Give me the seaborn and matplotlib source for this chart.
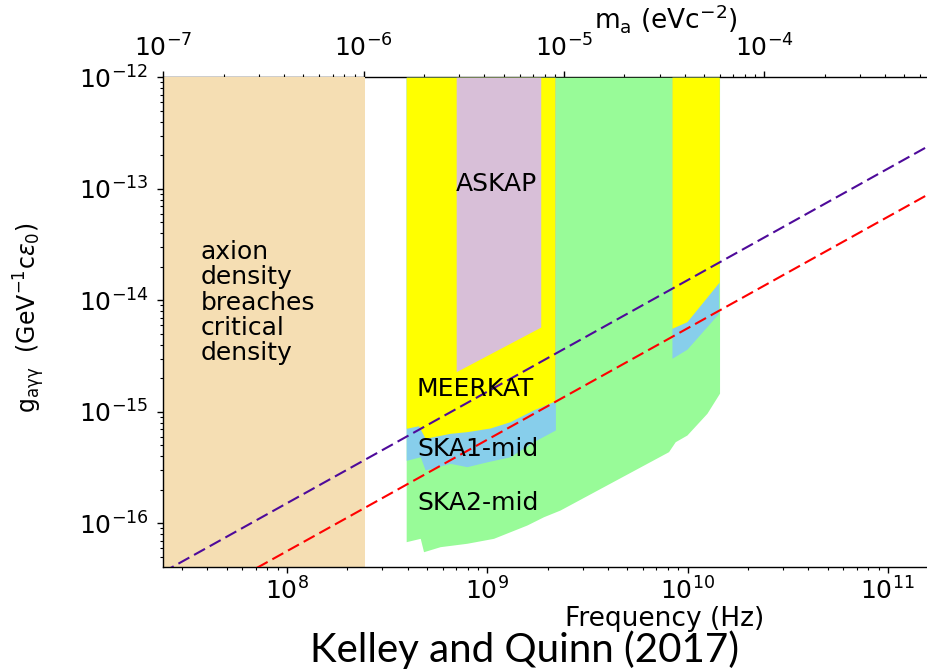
import numpy as np
import pandas as pd
import matplotlib
matplotlib.use("Agg")
import matplotlib.pyplot as plt
import seaborn as sns

# ---------------- data (Hz, GeV^-1 c eps0) ----------------
H_OVER_E = 4.135667e-15  # eV per Hz (photon energy conversion)

X_MIN, X_MAX = 2.415e7, 1.72e11
Y_MIN, Y_MAX = 4.03e-17, 1e-12

density_f = [2.415e7, 2.46e8]

meerkat_a_f = [3.94e8, 4.54e8, 4.90e8, 6.53e8, 7.94e8, 1.035e9, 1.30e9, 1.70e9, 2.18e9]
meerkat_a_g = [7.11e-16, 7.50e-16, 5.78e-16, 6.41e-16, 6.64e-16, 7.16e-16, 8.15e-16, 1.04e-15, 1.25e-15]
meerkat_b_f = [8.36e9, 9.93e9, 1.44e10]
meerkat_b_g = [5.61e-15, 6.43e-15, 1.46e-14]

ska1_a_f = [3.94e8, 4.63e8, 4.90e8, 6.53e8, 7.92e8, 9.97e8, 1.30e9, 1.70e9, 2.19e9]
ska1_a_g = [3.67e-16, 3.95e-16, 3.01e-16, 3.45e-16, 3.22e-16, 3.56e-16, 3.95e-16, 5.39e-16, 6.87e-16]
ska1_b_f = [8.36e9, 9.93e9, 1.43e10]
ska1_b_g = [3.02e-15, 3.64e-15, 7.64e-15]

ska2_f = [3.94e8, 4.63e8, 4.81e8, 5.82e8, 7.92e8, 1.075e9, 1.58e9, 1.91e9, 2.31e9,
          8.04e9, 8.68e9, 9.93e9, 1.25e10, 1.445e10]
ska2_g = [6.84e-17, 7.33e-17, 5.56e-17, 6.17e-17, 6.62e-17, 7.33e-17, 9.66e-17, 1.145e-16, 1.315e-16,
          4.39e-16, 5.39e-16, 6.19e-16, 9.70e-16, 1.47e-15]

askap_f = [7.0e8, 1.85e9]
askap_g = [2.29e-15, 5.75e-15]

line_f = [2.4e7, 2.0e11]
purple_line_g = [3.63e-17, 3.03e-13]
red_line_g = [1.35e-17, 1.12e-13]

region_labels = ["axion\ndensity\nbreaches\ncritical\ndensity", "ASKAP", "MEERKAT", "SKA1-mid", "SKA2-mid"]
label_f = [3.72e7, 7.0e8, 4.46e8, 4.46e8, 4.46e8]
label_g = [3.45e-14, 9.5e-14, 1.39e-15, 4.04e-16, 1.32e-16]

# ---------------- style ----------------
sns.set_theme(style="ticks")
plt.rcParams["font.family"] = ["DejaVu Sans"]
plt.rcParams["mathtext.fontset"] = "dejavusans"
plt.rcParams["text.color"] = "black"
plt.rcParams["axes.labelcolor"] = "black"
plt.rcParams["xtick.color"] = "black"
plt.rcParams["ytick.color"] = "black"

W, H = 928, 672
fig = plt.figure(figsize=(W / 100, H / 100), dpi=100)
left_px, right_px, top_px, bot_px = 163.3, 935.0, 77.3, 567.3
ax = fig.add_axes([left_px / W, 1 - bot_px / H, (right_px - left_px) / W, (bot_px - top_px) / H])
ax.set_xscale("log")
ax.set_yscale("log")
ax.set_xlim(X_MIN, X_MAX)
ax.set_ylim(Y_MIN, Y_MAX)

# regions
ax.fill_between(density_f, Y_MIN, Y_MAX, color="wheat", lw=0, zorder=1)
ax.fill_between(ska2_f, ska2_g, Y_MAX, color="palegreen", lw=0, zorder=2)
ax.fill_between(ska1_a_f, ska1_a_g, Y_MAX, color="skyblue", lw=0, zorder=3)
ax.fill_between(ska1_b_f, ska1_b_g, Y_MAX, color="skyblue", lw=0, zorder=3)
ax.fill_between(meerkat_a_f, meerkat_a_g, Y_MAX, color="yellow", lw=0, zorder=4)
ax.fill_between(meerkat_b_f, meerkat_b_g, Y_MAX, color="yellow", lw=0, zorder=4)
ax.fill_between(askap_f, askap_g, Y_MAX, color="thistle", lw=0, zorder=5)

# dashed lines
lines = pd.DataFrame({"f": line_f * 2,
                      "g": purple_line_g + red_line_g,
                      "which": ["purple"] * 2 + ["red"] * 2})
sns.lineplot(data=lines, x="f", y="g", hue="which",
             palette={"purple": "#4e0a9a", "red": "red"},
             ax=ax, lw=1.5, legend=False, zorder=6, sort=False)
for ln in ax.get_lines():
    ln.set_dashes((6, 2.6))

# labels in regions
for txt, f, g in zip(region_labels, label_f, label_g):
    if "\n" in txt:
        ax.text(f, g, txt, fontsize=18, ha="left", va="top", linespacing=1.06,
                color="black", zorder=7)
    else:
        ax.text(f, g, txt, fontsize=18, ha="left", va="baseline", color="black", zorder=7)

# axes cosmetics
for s in ["top", "right"]:
    ax.spines[s].set_visible(False)
for s in ["left", "bottom"]:
    ax.spines[s].set_linewidth(1.0)
    ax.spines[s].set_color("black")
ax.tick_params(axis="both", which="major", direction="out", length=4.5, width=1.0,
               labelsize=18, color="black", labelcolor="black")
ax.tick_params(axis="both", which="minor", direction="out", length=2.5, width=0.8, color="black")
ax.tick_params(axis="x", which="major", pad=3)
ax.tick_params(axis="y", which="major", pad=6)

sec = ax.secondary_xaxis("top", functions=(lambda f: f * H_OVER_E, lambda m: m / H_OVER_E))
sec.spines["top"].set_linewidth(1.0)
sec.spines["top"].set_color("black")
sec.tick_params(axis="x", which="major", direction="out", length=4.5, width=1.0,
                labelsize=18, pad=7, color="black", labelcolor="black")
sec.tick_params(axis="x", which="minor", direction="out", length=2.5, width=0.8, color="black")
sec.set_xlabel(r"m$_\mathregular{a}$ (eVc$^{-2}$)", fontsize=19, va="bottom", color="black")
sec.xaxis.set_label_coords(0.651, 1.086, transform=ax.transAxes)

ax.set_xlabel("Frequency (Hz)", fontsize=19, color="black")
ax.xaxis.set_label_coords(0.649, -0.079)
ax.set_ylabel(r"g$_{\mathregular{a\gamma\gamma}}$  (GeV$^{-1}$c$\epsilon_0$)", fontsize=17, color="black")
ax.yaxis.set_label_coords(-0.1507, 0.509)

fig.text(524 / W, (H - 662) / H, "Kelley and Quinn (2017)", fontsize=29,
         family=["Lato", "DejaVu Sans"], ha="center", va="baseline", color="black")

fig.savefig("out.png", dpi=100)
